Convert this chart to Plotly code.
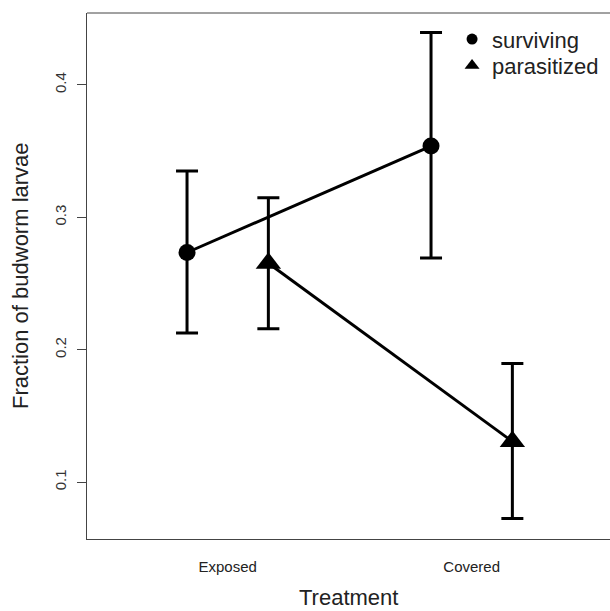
import plotly.graph_objects as go

# ---- data ----
treatments = ["Exposed", "Covered"]
surv_mean = [0.2734, 0.3538]
surv_upper = [0.3350, 0.4395]
surv_lower = [0.2127, 0.2692]
para_mean = [0.2653, 0.1307]
para_upper = [0.3148, 0.1895]
para_lower = [0.2159, 0.0725]
y_ticks = [0.1, 0.2, 0.3, 0.4]
series_names = ["surviving", "parasitized"]

dodge = 1 / 6
base = [i + 1 for i in range(len(treatments))]
x_surv = [b - dodge for b in base]
x_para = [b + dodge for b in base]

FONT = "Liberation Sans, Arial, Helvetica, sans-serif"


def errs(mean, up, lo):
    return [u - m for u, m in zip(up, mean)], [m - l for m, l in zip(mean, lo)]


sp, sm = errs(surv_mean, surv_upper, surv_lower)
pp, pm = errs(para_mean, para_upper, para_lower)

fig = go.Figure()
fig.add_trace(go.Scatter(
    x=x_surv, y=surv_mean, mode="lines+markers", showlegend=False,
    line=dict(color="black", width=3),
    marker=dict(symbol="circle", size=17, color="black"),
    error_y=dict(type="data", symmetric=False, array=sp, arrayminus=sm,
                 color="black", thickness=3, width=11),
))
fig.add_trace(go.Scatter(
    x=x_para, y=para_mean, mode="lines+markers", showlegend=False,
    line=dict(color="black", width=3),
    marker=dict(symbol="triangle-up", size=22, color="black"),
    error_y=dict(type="data", symmetric=False, array=pp, arrayminus=pm,
                 color="black", thickness=3, width=11),
))
# legend-only entries, each in its own legend box for exact placement
fig.add_trace(go.Scatter(x=[None], y=[None], mode="markers", name=series_names[0],
                         legend="legend",
                         marker=dict(symbol="circle", size=11, color="black")))
fig.add_trace(go.Scatter(x=[None], y=[None], mode="markers", name=series_names[1],
                         legend="legend2",
                         marker=dict(symbol="triangle-up", size=13, color="black")))

legend_style = dict(xanchor="left", yanchor="middle", bgcolor="rgba(0,0,0,0)",
                    borderwidth=0, font=dict(size=22, color="#222", family=FONT))

fig.update_layout(
    width=610, height=611,
    margin=dict(l=87, r=0, t=13, b=72, pad=0),
    paper_bgcolor="white", plot_bgcolor="white",
    font=dict(family=FONT, color="#222"),
    showlegend=True,
    legend=dict(x=0.698, y=0.950, **legend_style),
    legend2=dict(x=0.698, y=0.900, **legend_style),
    xaxis=dict(range=[0.4234, 2.5668], tickmode="array", tickvals=base,
               ticktext=treatments, showgrid=False, zeroline=False,
               showline=True, linecolor="#444", linewidth=1,
               ticks="", ticklabelstandoff=14,
               tickfont=dict(size=15, color="#222", family=FONT)),
    yaxis=dict(range=[0.05705, 0.45426], tickmode="array", tickvals=y_ticks,
               ticktext=[str(t) for t in y_ticks], showgrid=False,
               zeroline=False, showline=True, linecolor="#444", linewidth=1,
               ticks="outside", ticklen=9, tickcolor="#444", tickwidth=1,
               tickangle=-90, ticklabelstandoff=5,
               tickfont=dict(size=15, color="#333", family=FONT)),
    shapes=[dict(type="line", xref="paper", yref="paper", x0=0, x1=1, y0=1, y1=1,
                 line=dict(color="#444", width=1))],
    annotations=[
        dict(text="Treatment", xref="paper", yref="paper", x=0.5, y=0,
             yshift=-58, xanchor="center", yanchor="middle", showarrow=False,
             font=dict(size=22, color="#222", family=FONT)),
        dict(text="Fraction of budworm larvae", xref="paper", yref="paper",
             x=0, y=0.5, xshift=-67, xanchor="center", yanchor="middle",
             textangle=-90, showarrow=False,
             font=dict(size=22, color="#222", family=FONT)),
    ],
)

fig.write_html("out.html", config={"displayModeBar": False},
               post_script="document.body.style.margin='0px';")
